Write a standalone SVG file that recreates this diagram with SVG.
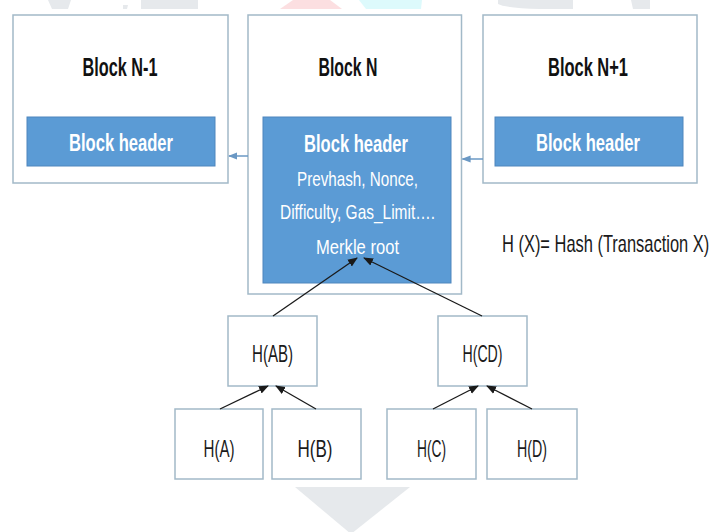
<svg xmlns="http://www.w3.org/2000/svg" width="718" height="532" viewBox="0 0 718 532">
<style>
.box{fill:#ffffff;stroke:#a2b9c8;stroke-width:1.5}
.hdr{fill:#5b9bd5;stroke:#4f86bd;stroke-width:1}
.title{font-family:"Liberation Sans",Arial,sans-serif;font-size:25px;font-weight:bold;fill:#111111;text-anchor:middle}
.htxt{font-family:"Liberation Sans",Arial,sans-serif;font-size:24px;font-weight:bold;fill:#ffffff;text-anchor:middle}
.sub{font-family:"Liberation Sans",Arial,sans-serif;font-size:21px;fill:#ffffff;text-anchor:middle}
.lbl{font-family:"Liberation Sans",Arial,sans-serif;font-size:24px;fill:#1a1a1a;text-anchor:middle}
.legend{font-family:"Liberation Sans",Arial,sans-serif;font-size:23px;fill:#1a1a1a}
.blk{stroke:#1a1a1a;stroke-width:1.3;fill:none}
.lnk{stroke:#6a98c4;stroke-width:1.5;fill:none}
.wm{fill:#e6e9ec}
</style>
<defs>
<marker id="ah" markerUnits="userSpaceOnUse" markerWidth="10" markerHeight="10" viewBox="0 0 10 10" refX="9" refY="5" orient="auto">
<path d="M0,1 L10,5 L0,9 Z" fill="#1a1a1a"/>
</marker>
<marker id="ab" markerUnits="userSpaceOnUse" markerWidth="9" markerHeight="9" viewBox="0 0 10 10" refX="9" refY="5" orient="auto">
<path d="M0,1 L10,5 L0,9 Z" fill="#6a98c4"/>
</marker>
</defs>
<rect x="0" y="0" width="718" height="532" fill="#ffffff"/>
<g id="watermark">
<polygon class="wm" points="48,0 71,0 68,9 52,9"/>
<polygon class="wm" points="123,5 128,5 127,9 123,9"/>
<polygon class="wm" points="141,0 198,0 198,9 141,9"/>
<polygon fill="#fcdfe1" points="293,0 330,0 342,9 280,9"/>
<polygon fill="#ddfafc" points="359,0 422,0 421,9 366,9"/>
<path class="wm" d="M498,0 L573,0 L573,9 L540,9 Q505,8 498,4 Z"/>
<polygon class="wm" points="631,0 650,0 650,9 633,9"/>
<polygon class="wm" points="295,487 410,487 351,534"/>
</g>
<g id="block-n-1">
<rect class="box" x="13" y="15" width="215" height="168"/>
<text class="title" x="120" y="76" textLength="75" lengthAdjust="spacingAndGlyphs">Block N-1</text>
<rect class="hdr" x="27" y="117" width="188" height="49"/>
<text class="htxt" x="121" y="151" textLength="104" lengthAdjust="spacingAndGlyphs">Block header</text>
</g>
<g id="block-n">
<rect class="box" x="248" y="15" width="213.5" height="279"/>
<text class="title" x="348" y="76" textLength="59" lengthAdjust="spacingAndGlyphs">Block N</text>
<rect class="hdr" x="263" y="117" width="188" height="166"/>
<text class="htxt" x="356" y="152" textLength="104" lengthAdjust="spacingAndGlyphs">Block header</text>
<text class="sub" x="357.5" y="186" textLength="121" lengthAdjust="spacingAndGlyphs">Prevhash, Nonce,</text>
<text class="sub" x="357.5" y="219" textLength="155" lengthAdjust="spacingAndGlyphs">Difficulty, Gas_Limit….</text>
<text class="sub" x="357.5" y="254" textLength="83" lengthAdjust="spacingAndGlyphs">Merkle root</text>
</g>
<g id="block-n-plus-1">
<rect class="box" x="483" y="15" width="214" height="168"/>
<text class="title" x="588" y="76" textLength="80" lengthAdjust="spacingAndGlyphs">Block N+1</text>
<rect class="hdr" x="495" y="117" width="188" height="49"/>
<text class="htxt" x="588" y="151" textLength="104" lengthAdjust="spacingAndGlyphs">Block header</text>
</g>
<g id="legend">
<text class="legend" x="0" y="0" transform="translate(502,252) scale(0.715,1)">H (X)= Hash (Transaction X)</text>
</g>
<g id="h-ab">
<rect class="box" x="228" y="316" width="89" height="70"/>
<text class="lbl" x="272.5" y="362" textLength="41" lengthAdjust="spacingAndGlyphs">H(AB)</text>
</g>
<g id="h-cd">
<rect class="box" x="438" y="316" width="89" height="70"/>
<text class="lbl" x="482.5" y="362" textLength="40" lengthAdjust="spacingAndGlyphs">H(CD)</text>
</g>
<g id="h-a">
<rect class="box" x="175" y="409" width="88" height="70"/>
<text class="lbl" x="219" y="457" textLength="31" lengthAdjust="spacingAndGlyphs">H(A)</text>
</g>
<g id="h-b">
<rect class="box" x="272" y="409" width="89" height="70"/>
<text class="lbl" x="315" y="457" textLength="35" lengthAdjust="spacingAndGlyphs">H(B)</text>
</g>
<g id="h-c">
<rect class="box" x="387" y="409" width="89" height="70"/>
<text class="lbl" x="431.5" y="457" textLength="29" lengthAdjust="spacingAndGlyphs">H(C)</text>
</g>
<g id="h-d">
<rect class="box" x="487" y="409" width="90" height="70"/>
<text class="lbl" x="532" y="457" textLength="30" lengthAdjust="spacingAndGlyphs">H(D)</text>
</g>
<g id="connectors">
<line class="lnk" x1="248" y1="156" x2="229" y2="156" marker-end="url(#ab)"/>
<line class="lnk" x1="483" y1="159" x2="462.5" y2="159" marker-end="url(#ab)"/>
<line class="blk" x1="273" y1="316" x2="357" y2="258" marker-end="url(#ah)"/>
<line class="blk" x1="482" y1="316" x2="364" y2="258" marker-end="url(#ah)"/>
<line class="blk" x1="220" y1="409" x2="268" y2="386" marker-end="url(#ah)"/>
<line class="blk" x1="316" y1="409" x2="276" y2="386" marker-end="url(#ah)"/>
<line class="blk" x1="433" y1="409" x2="478" y2="386" marker-end="url(#ah)"/>
<line class="blk" x1="532" y1="409" x2="487" y2="386" marker-end="url(#ah)"/>
</g>
</svg>
